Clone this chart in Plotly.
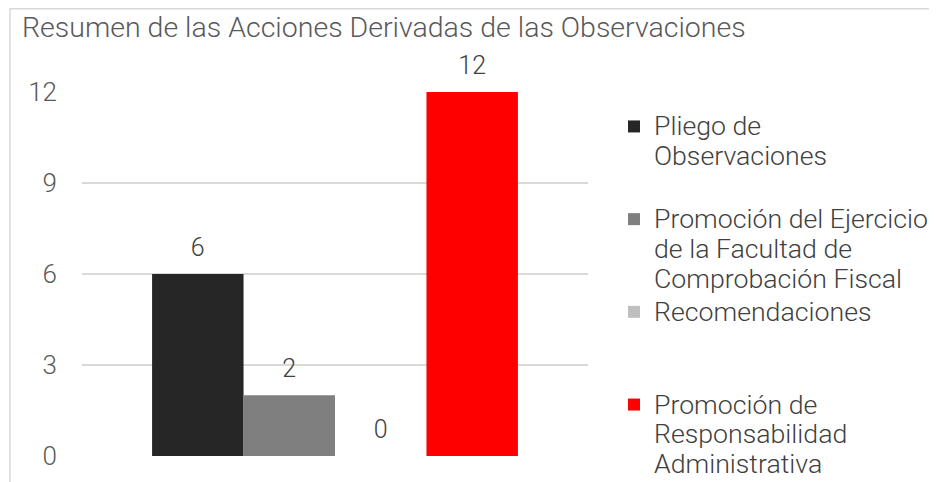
import plotly.graph_objects as go

categories = [""]
legend_lines = [
    ["Pliego de", "Observaciones", "\u00a0"],
    ["Promoción del Ejercicio", "de la Facultad de", "Comprobación Fiscal"],
    ["Recomendaciones", "\u00a0", "\u00a0"],
    ["Promoción de", "Responsabilidad", "Administrativa"],
]
series_values = [[6], [2], [0], [12]]
series_colors = ["#262626", "#7f7f7f", "#bfbfbf", "#ff0000"]
y_ticks = [0, 3, 6, 9, 12]

FONT = "Roboto Light, Roboto"


def legend_label(lines):
    return "<br>".join(f"<span style='font-size:26.7px'>{ln}</span>" for ln in lines)


fig = go.Figure()
for lines, vals, col in zip(legend_lines, series_values, series_colors):
    fig.add_trace(go.Bar(
        x=categories, y=vals, name=legend_label(lines),
        marker=dict(color=col, line=dict(width=0)),
        texttemplate="<span style='font-size:25px'>%{y}</span><br>\u00a0",
        textposition="outside",
        textfont=dict(family=FONT, size=10, color="#404040", weight=300),
        cliponaxis=False,
        hovertemplate="%{y}<extra></extra>",
    ))

fig.update_layout(
    width=937, height=482,
    paper_bgcolor="white", plot_bgcolor="white",
    margin=dict(l=74, r=357, t=84, b=34, autoexpand=False),
    barmode="group", bargap=0.277, bargroupgap=0,
    font=dict(family=FONT, size=25, color="#595959", weight=300),
    title=dict(
        text="Resumen de las Acciones Derivadas de las Observaciones",
        x=14 / 937, xref="container", xanchor="left",
        y=1 - 19 / 482, yref="container", yanchor="middle",
        font=dict(family=FONT, size=28.5, color="#595959", weight=300),
    ),
    xaxis=dict(showticklabels=False, showgrid=False, zeroline=False,
               showline=False, ticks=""),
    yaxis=dict(range=[0, 12], tickvals=y_ticks, showgrid=True,
               gridcolor="#d9d9d9", gridwidth=1.5, zeroline=False,
               showline=False, ticks="", ticklabelstandoff=24,
               tickfont=dict(family=FONT, size=26, color="#595959", weight=300)),
    legend=dict(
        x=606 / 937, xanchor="left", y=1 - 97 / 482, yanchor="top",
        xref="container", yref="container", maxheight=480,
        valign="top", tracegroupgap=0, itemclick=False,
        font=dict(family=FONT, size=23, color="#404040", weight=300),
        bgcolor="rgba(0,0,0,0)",
    ),
    shapes=[dict(type="rect", xref="paper", yref="paper",
                 x0=(2 - 74) / 506, x1=(945 - 74) / 506,
                 y0=(448 - 490) / 364, y1=(448 - 0.75) / 364,
                 line=dict(color="#d9d9d9", width=1.5), fillcolor="rgba(0,0,0,0)",
                 layer="below")],
)

fig.write_html("out.html")
